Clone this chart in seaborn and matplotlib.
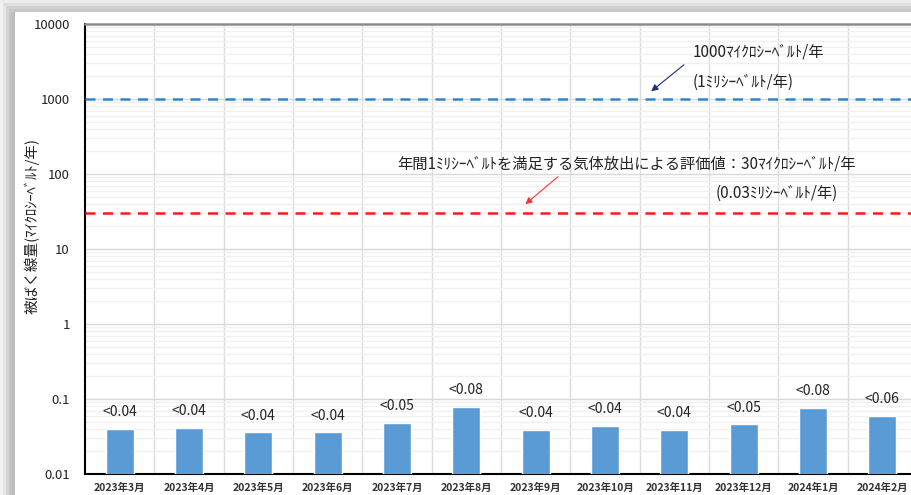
import matplotlib
matplotlib.use("Agg")
import matplotlib.pyplot as plt
import seaborn as sns
import pandas as pd
import numpy as np
from matplotlib.patches import Rectangle
from matplotlib.ticker import FixedLocator, NullFormatter, LogLocator

sns.set_theme(style="white")
plt.rcParams['font.family'] = ['Noto Sans CJK JP', 'DejaVu Sans']

months = ["2023年3月", "2023年4月", "2023年5月", "2023年6月", "2023年7月", "2023年8月",
          "2023年9月", "2023年10月", "2023年11月", "2023年12月", "2024年1月", "2024年2月"]
values = [0.040, 0.041, 0.036, 0.036, 0.048, 0.078, 0.0385, 0.044, 0.0385, 0.046, 0.076, 0.059]
bar_labels = ["<0.04", "<0.04", "<0.04", "<0.04", "<0.05", "<0.08",
              "<0.04", "<0.04", "<0.04", "<0.05", "<0.08", "<0.06"]
limit_line = 1000
eval_line = 30
ytick_vals = [0.01, 0.1, 1, 10, 100, 1000, 10000]
ytick_labels = ["0.01", "0.1", "1", "10", "100", "1000", "10000"]
ylabel = "被ばく線量(ﾏｲｸﾛｼｰﾍﾞﾙﾄ/年)"
blue_text = ["1000ﾏｲｸﾛｼｰﾍﾞﾙﾄ/年", "(1ﾐﾘｼｰﾍﾞﾙﾄ/年)"]
red_text = ["年間1ﾐﾘｼｰﾍﾞﾙﾄを満足する気体放出による評価値：30ﾏｲｸﾛｼｰﾍﾞﾙﾄ/年", "(0.03ﾐﾘｼｰﾍﾞﾙﾄ/年)"]

df = pd.DataFrame({"month": months, "value": values})

fig = plt.figure(figsize=(9.12, 4.95), dpi=100)
fig.patch.set_facecolor("white")

# screenshot shadow border
W, H = 912, 495
left_cols = ["#f2f2f2", "#e6e6e6", "#d6d6d6", "#c4c4c4", "#bcbcbc"]
for i, c in enumerate(left_cols):
    fig.patches.append(Rectangle((i * 3 / W, 0), 3 / W, 1, transform=fig.transFigure,
                                 facecolor=c, edgecolor="none", zorder=0))
top_cols = ["#ececec", "#dedede", "#d2d2d2", "#c8c8c8"]
for i, c in enumerate(top_cols):
    fig.patches.append(Rectangle((i * 3 / W, 1 - (i + 1) * 3 / H), 1, 3 / H, transform=fig.transFigure,
                                 facecolor=c, edgecolor="none", zorder=0))

ax = fig.add_axes([85 / W, 21 / H, 832 / W, 450 / H])
ax.set_facecolor("white")
ax.set_yscale("log")
sns.barplot(data=df, x="month", y="value", color="#5B9BD5", width=0.4, ax=ax,
            saturation=1, zorder=3)
ax.set_ylim(0.01, 10000)
ax.set_xlim(-0.5, len(months) - 0.5)

ax.yaxis.set_major_locator(FixedLocator(ytick_vals))
ax.set_yticklabels(ytick_labels, fontsize=9.5, color="#222222")
ax.yaxis.set_minor_locator(LogLocator(base=10, subs=np.arange(2, 10)))
ax.yaxis.set_minor_formatter(NullFormatter())
ax.tick_params(axis="y", which="both", length=0, pad=11)
ax.tick_params(axis="x", length=0, pad=6)
for lab in ax.get_xticklabels():
    lab.set_fontsize(7.5)
    lab.set_fontweight("bold")
    lab.set_color("#333333")

ax.grid(True, axis="y", which="major", color="#d9d9d9", lw=1, zorder=0)
ax.grid(True, axis="y", which="minor", color="#f0f0f0", lw=1, zorder=0)
for b in np.arange(0.5, len(months) - 0.5, 1):
    ax.axvline(b, color="#dcdcdc", lw=1, zorder=0)

ax.axhline(limit_line, color="#2E86D0", lw=1.8, ls=(0, (4, 3)), zorder=4)
ax.axhline(eval_line, color="#FF1A1A", lw=1.8, ls=(0, (4, 3)), zorder=4)

for s in ["left", "bottom"]:
    ax.spines[s].set_color("black")
    ax.spines[s].set_linewidth(1.5)
ax.spines["top"].set_color("#8c8c8c")
ax.spines["top"].set_linewidth(1.8)
ax.spines["right"].set_visible(False)

ax.set_xlabel("")
ax.set_ylabel(ylabel, fontsize=10.5, color="#222222")
ax.yaxis.set_label_coords(-0.055, 0.55)

ax.bar_label(ax.containers[0], labels=bar_labels, padding=7, fontsize=10, color="#222222")

# annotations
ax.annotate("", xy=(7.635, 1200), xytext=(8.17, 3020),
            arrowprops=dict(arrowstyle="-|>", color="#1F2F6B", lw=0.8, mutation_scale=10))
ax.text(8.27, 4236, blue_text[0], fontsize=11, va="center", ha="left", color="#222222")
ax.text(8.27, 1686, blue_text[1], fontsize=11, va="center", ha="left", color="#222222")
ax.annotate("", xy=(5.82, 37.4), xytext=(6.35, 97),
            arrowprops=dict(arrowstyle="-|>", color="#FF3333", lw=0.8, mutation_scale=10))
ax.text(4.0, 136, red_text[0], fontsize=11, va="center", ha="left", color="#222222")
ax.text(8.59, 55.8, red_text[1], fontsize=11, va="center", ha="left", color="#222222")

fig.savefig("out.png", dpi=100)
